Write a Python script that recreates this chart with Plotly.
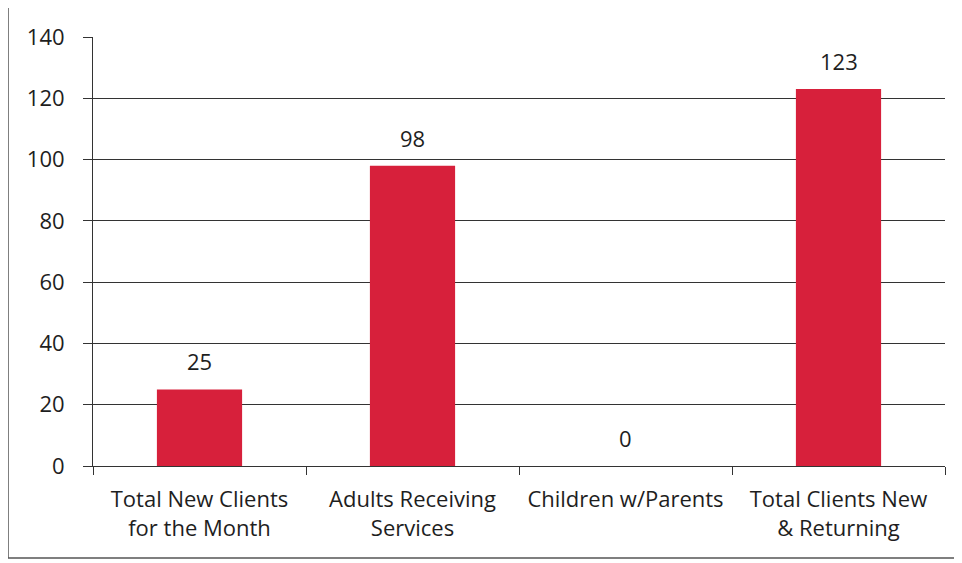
import plotly.graph_objects as go

categorias = [
    "Total New Clients<br>for the Month",
    "Adults Receiving<br>Services",
    "Children w/Parents",
    "Total Clients New<br>& Returning",
]
valores = [25, 98, 0, 123]
ticks_y = [0, 20, 40, 60, 80, 100, 120, 140]

# a página tem margem de 8px no body, compensada aqui
W, H = 962, 563
L, R, T, B = 85, 25, 29, 105
pw, ph = W - L - R, H - T - B
OFF = 8

def px_x(x):
    return (x - OFF - L) / pw

def px_y(y):
    return (H - B - (y - OFF)) / ph

fonte = dict(family="Open Sans, sans-serif", size=22, color="#1e1e1e")

fig = go.Figure(go.Bar(
    x=categorias,
    y=valores,
    marker_color="#D7203B",
    marker_line_width=0,
    width=0.4,
    hoverinfo="x+y",
))

for c, v in zip(categorias, valores):
    fig.add_annotation(
        x=c, y=v, text=str(v), showarrow=False,
        yanchor="bottom", yshift=11, font=fonte,
    )

fig.update_layout(
    width=W, height=H,
    margin=dict(l=L, r=R, t=T, b=B),
    paper_bgcolor="white",
    plot_bgcolor="white",
    font=fonte,
    showlegend=False,
    shapes=[
        dict(type="rect", xref="paper", yref="paper",
             x0=px_x(8), x1=px_x(975), y0=px_y(558), y1=px_y(6),
             line=dict(color="#555555", width=1.5)),
    ],
)

fig.update_yaxes(
    range=[0, 140],
    tickvals=ticks_y,
    automargin=False,
    showgrid=True, gridcolor="#333333", gridwidth=1,
    showline=True, linecolor="#333333", linewidth=1,
    ticks="outside", ticklen=9, tickcolor="#333333",
    ticklabelstandoff=14,
    zeroline=False,
)

fig.update_xaxes(
    tickangle=0,
    automargin=False,
    showline=True, linecolor="#333333", linewidth=1,
    ticks="outside", ticklen=8, tickcolor="#333333",
    tickson="boundaries",
    ticklabelstandoff=14,
    showgrid=False,
)

fig.write_html("out.html")
